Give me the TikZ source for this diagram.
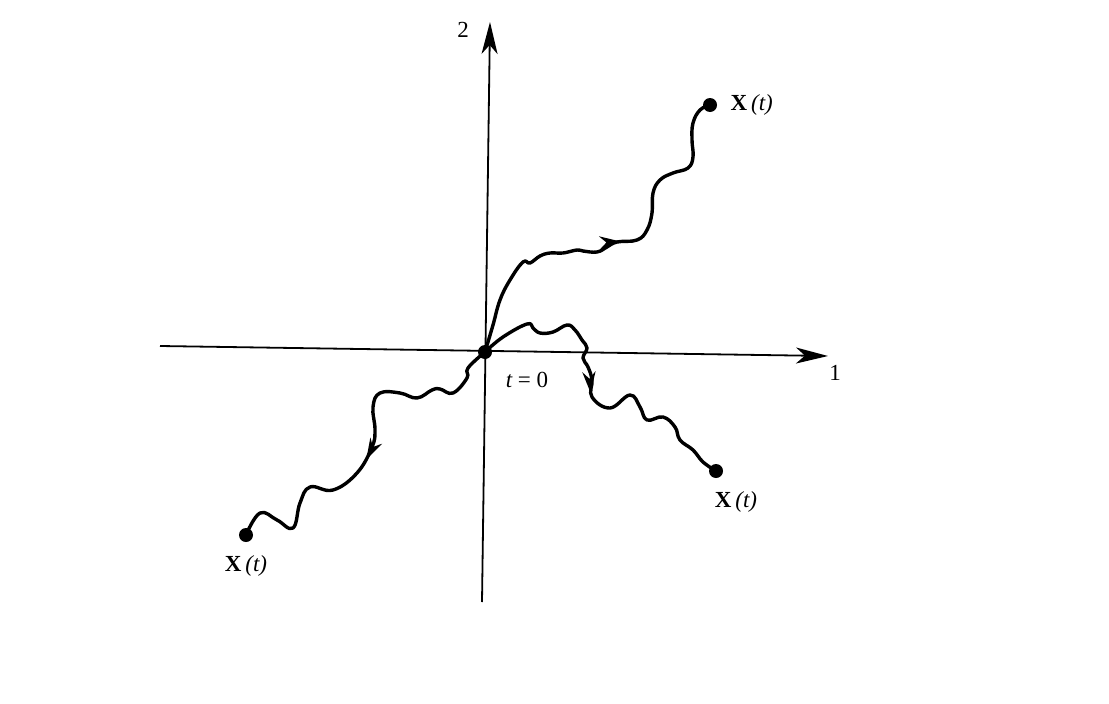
\documentclass[tikz,border=0pt]{standalone}
\usepackage{fontspec}
\setmainfont{Liberation Serif}
\usetikzlibrary{arrows.meta,positioning,decorations.markings}

\begin{document}
\begin{tikzpicture}[
  x=1pt,y=-1pt,
  axis/.style={line width=1.8pt,-{Stealth[length=32pt,width=16pt,inset=9pt]}},
  walk/.style={line width=3.4pt,line join=round,line cap=round},
  dot/.style={circle,fill=black,inner sep=0pt,minimum size=14pt},
  lbl/.style={font=\fontsize{23}{26}\selectfont},
  midarrow/.style={postaction={decorate},
    decoration={markings,mark=at position #1 with {\arrow{Stealth[length=21pt,width=13pt]}}}},
]
\useasboundingbox (0,0) rectangle (1109,704);
% axes
\coordinate (xl) at (160,346);
\coordinate (xr) at (828,356);
\coordinate (yb) at (482,602);
\coordinate (yt) at (490,22);
\draw[axis] (xl) -- (xr);
\draw[axis] (yb) -- (yt);
\node[lbl] (lx) at (835,373) {1};
\node[lbl] (ly) at (463,30) {2};
% start and end points
\coordinate (o) at (485,352);
\coordinate (xa) at (710,105);
\coordinate (xb) at (716,471);
\coordinate (xc) at (246,535);
% sample paths
\draw[walk,midarrow=0.52] plot[smooth,tension=0.7] coordinates {(o) (493,325) (500,300)
  (510,280) (523,262) (530,263) (540,256) (550,253) (563,253) (577,250) (583,251)
  (597,252) (607,247) (617,242) (637,240) (647,230) (652,213) (653,193) (660,180)
  (673,173) (688,168) (693,157) (692,140) (693,123) (700,110) (xa)};
\draw[walk,midarrow=0.5] plot[smooth,tension=0.7] coordinates {(o) (503,337) (527,324)
  (533,328) (540,333) (553,332) (567,325) (575,330) (582,340) (587,348) (583,358)
  (588,367) (592,380) (592,397) (610,408) (630,395) (640,407) (647,420) (663,417)
  (675,427) (680,440) (693,450) (703,462) (xb)};
\draw[walk,midarrow=0.53] plot[smooth,tension=0.7] coordinates {(o) (468,368) (467,378)
  (453,393) (440,389) (432,390) (417,398) (400,393) (380,393) (373,407) (375,430)
  (372,447) (357,473) (333,490) (310,487) (300,503) (293,528) (277,520) (260,513) (xc)};
\node[dot] (o0) at (o) {};
\node[dot] (a) at (xa) {};
\node[dot] (b) at (xb) {};
\node[dot] (c) at (xc) {};
% labels
\node[lbl] (lt) at (527,380) {\itshape t \upshape= 0};
\node[lbl,right=10pt of a] (la) {\textbf{X}\,\textit{(t)}};
\node[lbl,below=10pt of b,xshift=20pt] (lb) {\textbf{X}\,\textit{(t)}};
\node[lbl,below=10pt of c] (lc) {\textbf{X}\,\textit{(t)}};
\end{tikzpicture}
\end{document}
